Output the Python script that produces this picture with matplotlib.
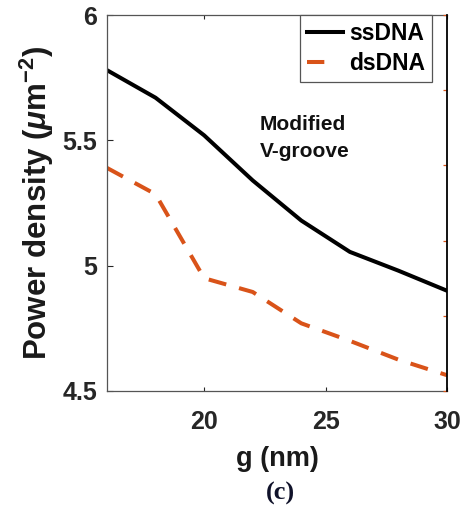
import matplotlib.pyplot as plt

plt.rcParams['font.family'] = ['Liberation Sans', 'DejaVu Sans']
plt.rcParams['font.weight'] = 'bold'
plt.rcParams['axes.labelweight'] = 'bold'
plt.rcParams['mathtext.fontset'] = 'custom'
plt.rcParams['mathtext.rm'] = 'Liberation Sans:bold'
plt.rcParams['mathtext.it'] = 'Liberation Sans:italic:bold'
plt.rcParams['mathtext.bf'] = 'Liberation Sans:bold'

# data
g_nm = [16, 18, 20, 22, 24, 26, 28, 30]
ssdna = [5.78, 5.67, 5.52, 5.34, 5.18, 5.055, 4.98, 4.90]
dsdna = [5.39, 5.285, 4.95, 4.895, 4.77, 4.70, 4.625, 4.563]

x_ticks = [20, 25, 30]
y_ticks = [4.5, 5, 5.5, 6]
dark = '#262626'
orange = '#D95319'

fig = plt.figure(figsize=(4.66, 5.18), dpi=100)
ax = fig.add_axes([0.2296, 0.2452, 0.7296, 0.7258])

ax.plot(g_nm, ssdna, color='black', lw=2.9, label='ssDNA')
ax.plot(g_nm, dsdna, color=orange, lw=2.9, label='dsDNA', dashes=(4.5, 3.3))

ax.set_xlim(16, 30)
ax.set_ylim(4.5, 6)
ax.set_xticks(x_ticks)
ax.set_yticks(y_ticks)
ax.set_yticklabels(['4.5', '5', '5.5', '6'])
ax.tick_params(axis='x', direction='in', length=3, width=0.8, color=dark,
               labelsize=18, pad=14, labelcolor=dark, top=True)
ax.tick_params(axis='y', direction='in', length=4, width=0.8, color=dark,
               labelsize=18, pad=7, labelcolor=dark)
for s in ['left', 'bottom', 'top']:
    ax.spines[s].set_color('#555555')
    ax.spines[s].set_linewidth(0.9)
ax.spines['right'].set_visible(False)

# right axis, only ticks in orange
ax2 = ax.twinx()
ax2.set_ylim(0, 5)
ax2.set_yticks([0, 1, 2, 3, 4, 5])
ax2.set_yticklabels([])
ax2.tick_params(axis='y', direction='in', length=3, width=0.9, color=orange)
ax2.spines['right'].set_color('black')
ax2.spines['right'].set_linewidth(1.3)
for s in ['left', 'bottom', 'top']:
    ax2.spines[s].set_visible(False)

ax.set_xlabel('g (nm)', fontsize=19.5, labelpad=8, color='#1a1a1a')
ax.set_ylabel(r'Power density ($\mu$m$^{-2}$)', fontsize=22.5, labelpad=5, color='#1a1a1a')

ax.text(22.3, 5.51, 'Modified\nV-groove', fontsize=15, ha='left', va='center',
        linespacing=1.55, color='#111111')

leg = ax.legend(loc='upper right', bbox_to_anchor=(0.956, 1.0), borderaxespad=0,
                fontsize=16.5, handlelength=1.6, handletextpad=0.25, labelspacing=0.3,
                borderpad=0.3, fancybox=False, framealpha=1)
leg.get_frame().set_edgecolor('#555555')
leg.get_frame().set_linewidth(0.9)
# only one dash shows in the legend sample
leg.get_lines()[1].set_dashes((4.3, 20))

fig.text(0.601, 0.047, '(c)', fontsize=19, ha='center', va='center',
         family='Liberation Serif', weight='bold', color='#10122a')

fig.savefig('out.png', dpi=100)
